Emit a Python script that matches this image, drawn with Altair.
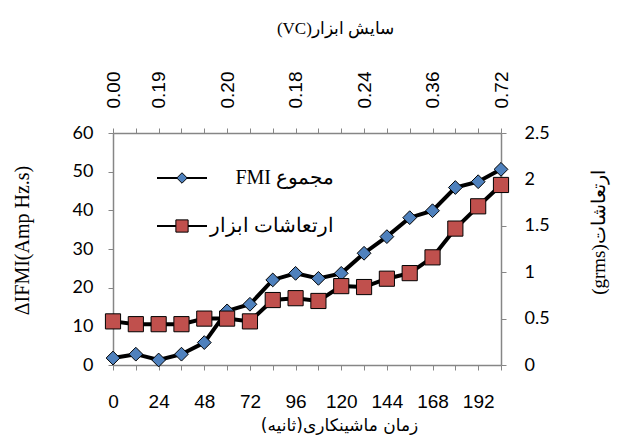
import altair as alt
import pandas as pd

# ---- data ----
times = [0, 12, 24, 36, 48, 60, 72, 84, 96, 108, 120, 132, 144, 156, 168, 180, 192, 204]
fmi = [1.8, 2.8, 1.3, 2.8, 5.8, 14.0, 15.7, 22.0, 23.7, 22.4, 23.7, 28.9, 33.2, 38.1, 39.9, 45.9, 47.4, 50.6]
vib = [0.47, 0.44, 0.44, 0.44, 0.50, 0.50, 0.47, 0.70, 0.72, 0.69, 0.85, 0.84, 0.93, 0.99, 1.16, 1.47, 1.71, 1.94]

bottom_label_times = [0, 24, 48, 72, 96, 120, 144, 168, 192]
bottom_labels = ["0", "24", "48", "72", "96", "120", "144", "168", "192"]
top_label_times = [0, 24, 60, 96, 132, 168, 204]
top_labels = ["0.00", "0.19", "0.20", "0.18", "0.24", "0.36", "0.72"]
left_ticks = [0, 10, 20, 30, 40, 50, 60]
right_ticks = [0, 0.5, 1, 1.5, 2, 2.5]

series_names = ["مجموع FMI", "ارتعاشات ابزار"]
x_title_bottom = "زمان ماشینکاری(ثانیه)"
x_title_top = "سایش ابزار(VC)"
y_title_left = "ΔIFMI(Amp Hz.s)"
y_title_right = "ارتعاشات(grms)"


def rtl(s):
    return "\u202b" + s + "\u202c"


def label_expr(vals, labels):
    v = "[" + ",".join(str(x) for x in vals) + "]"
    l = "[" + ",".join("'" + x + "'" for x in labels) + "]"
    return f"indexof({v}, datum.value) >= 0 ? {l}[indexof({v}, datum.value)] : ''"


df = pd.DataFrame({"time": times, "fmi": fmi, "vib": vib})

AX = "#868686"
W, H = 388, 232

xscale = alt.Scale(domain=[0, 204], nice=False, zero=False)

x_bottom = alt.X(
    "time:Q", scale=xscale,
    axis=alt.Axis(
        orient="bottom", values=times, labelExpr=label_expr(bottom_label_times, bottom_labels),
        grid=False, tickSize=5, tickColor=AX, domainColor=AX, domainWidth=1.5,
        labelFont="Liberation Sans", labelFontSize=19, labelColor="black", labelPadding=22,
        labelFlush=False, labelOverlap=False,
        title=rtl(x_title_bottom), titleFont="DejaVu Sans", titleFontSize=17, titleFontWeight="normal",
        titleColor="black", titleX=226, titleY=60, titleAlign="center", titleBaseline="middle",
    ),
)
x_top = alt.X(
    "time:Q", scale=xscale,
    axis=alt.Axis(
        orient="top", values=times, labelExpr=label_expr(top_label_times, top_labels),
        grid=False, tickSize=5, tickColor=AX, domainColor=AX, domainWidth=1.5,
        labelFont="Liberation Sans", labelFontSize=19, labelColor="black", labelPadding=20,
        labelAngle=270, labelAlign="left", labelBaseline="middle",
        labelFlush=False, labelOverlap=False,
        title=rtl(x_title_top), titleFont="Liberation Serif", titleFontSize=17, titleFontWeight="normal",
        titleColor="black", titleX=222, titleY=-105, titleAlign="center", titleBaseline="middle",
    ),
)
y_left = alt.Y(
    "fmi:Q", scale=alt.Scale(domain=[0, 60], nice=False),
    axis=alt.Axis(
        orient="left", values=left_ticks, grid=False, tickSize=5, tickColor=AX, domainColor=AX,
        domainWidth=1.5, labelFont="Lato", labelFontSize=18, labelColor="black", labelPadding=15,
        labelFlush=False,
        title=y_title_left, titleFont="Liberation Serif", titleFontSize=20, titleFontWeight="normal",
        titleColor="black", titleAngle=270, titleX=-91, titleY=107, titleAlign="center",
        titleBaseline="middle",
    ),
)
y_right = alt.Y(
    "vib:Q", scale=alt.Scale(domain=[0, 2.5], nice=False),
    axis=alt.Axis(
        orient="right", values=right_ticks, labelExpr="toString(datum.value)", grid=False,
        tickSize=5, tickColor=AX, domainColor=AX, domainWidth=1.5,
        labelFont="Lato", labelFontSize=18, labelColor="black", labelPadding=18, labelFlush=False,
        title=rtl(y_title_right), titleFont="Liberation Serif", titleFontSize=19,
        titleFontWeight="normal", titleColor="black", titleAngle=270, titleX=97, titleY=99,
        titleAlign="center", titleBaseline="middle",
    ),
)

base = alt.Chart(df)

fmi_line = base.mark_line(color="black", strokeWidth=4).encode(x=x_bottom, y=y_left)
vib_line = base.mark_line(color="black", strokeWidth=4).encode(x=x_top, y=y_right)

fmi_pts = base.mark_point(shape="diamond", filled=True, fill="#4F81BD", stroke="black",
                          strokeWidth=1, size=190, opacity=1).encode(
    x=alt.X("time:Q", scale=xscale, axis=None),
    y=alt.Y("fmi:Q", scale=alt.Scale(domain=[0, 60], nice=False), axis=None))
vib_pts = base.mark_point(shape="square", filled=True, fill="#C0504D", stroke="black",
                          strokeWidth=1, size=230, opacity=1).encode(
    x=alt.X("time:Q", scale=xscale, axis=None),
    y=alt.Y("vib:Q", scale=alt.Scale(domain=[0, 2.5], nice=False), axis=None))

# ---- legend (inside plot) ----
leg_df = pd.DataFrame({"label": [rtl(s) for s in series_names], "row": [0, 1]})
legend_layers = []
shapes = [("diamond", "#4F81BD", 110), ("square", "#C0504D", 150)]
for i, (shape, fill, size) in enumerate(shapes):
    d = leg_df.iloc[[i]]
    yv = 45 + 48 * i
    legend_layers.append(
        alt.Chart(d).mark_rule(color="black", strokeWidth=2).encode(
            x=alt.value(44), x2=alt.value(94), y=alt.value(yv)))
    legend_layers.append(
        alt.Chart(d).mark_point(shape=shape, filled=True, fill=fill, stroke="black",
                                strokeWidth=1, size=size, opacity=1).encode(
            x=alt.value(69), y=alt.value(yv)))
    legend_layers.append(
        alt.Chart(d).mark_text(align="right", baseline="middle", font="Liberation Serif",
                               fontSize=20, color="black").encode(
            x=alt.value(221), y=alt.value(yv), text="label:N"))

chart = alt.layer(
    fmi_line, vib_line, fmi_pts, vib_pts, *legend_layers
).resolve_scale(y="independent").resolve_axis(x="independent", y="independent").properties(
    width=W, height=H,
    autosize=alt.AutoSizeParams(type="none"),
    padding={"left": 105, "top": 125, "right": 110, "bottom": 70},
).configure_view(stroke=None)

chart.save("out.html", embed_options={"renderer": "svg", "actions": False})
